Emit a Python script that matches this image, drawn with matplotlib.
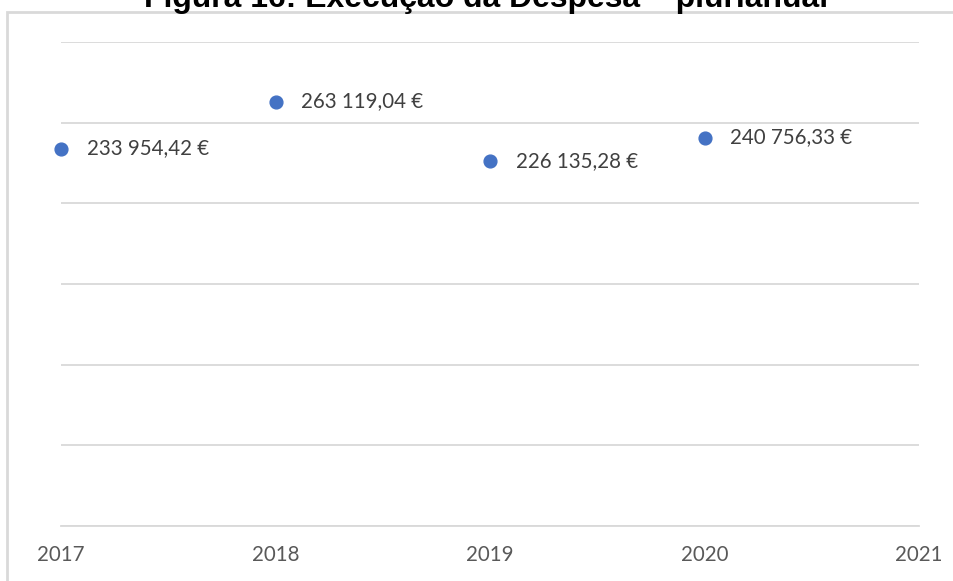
import matplotlib
matplotlib.use("Agg")
import matplotlib.pyplot as plt
from matplotlib.patches import Rectangle

years = [2017, 2018, 2019, 2020]
values = [233954.42, 263119.04, 226135.28, 240756.33]
labels = ["233 954,42 €", "263 119,04 €", "226 135,28 €", "240 756,33 €"]
xticks = [2017, 2018, 2019, 2020, 2021]
yticks = [0, 50000, 100000, 150000, 200000, 250000, 300000]
title = "Figura 16: Execução da Despesa – plurianual"

W, H = 954, 581
fig = plt.figure(figsize=(W / 100, H / 100), dpi=100)
fig.patch.set_facecolor("white")

# outer chart-area frame (partially cut off, as in the reference)
fig.patches.append(Rectangle((7 / W, -0.2), 1.5, (H - 12) / H + 0.2,
                             transform=fig.transFigure, fill=False,
                             edgecolor="#D9D9D9", linewidth=2.0, zorder=0))

ax = fig.add_axes([61 / W, (H - 526) / H, (919 - 61) / W, (526 - 42) / H])
ax.set_xlim(2017, 2021)
ax.set_ylim(0, 300000)
ax.set_yticks(yticks)
ax.set_xticks(xticks)
ax.set_xticklabels([str(x) for x in xticks], fontfamily="Lato", fontsize=14.8, color="#595959")
ax.set_yticklabels([])
ax.tick_params(axis="both", length=0)
ax.tick_params(axis="x", pad=14)
ax.grid(axis="y", color="#D9D9D9", linewidth=1.3)
ax.set_axisbelow(True)
for s in ["left", "right", "top"]:
    ax.spines[s].set_visible(False)
ax.spines["bottom"].set_color("#D9D9D9")
ax.spines["bottom"].set_linewidth(1.3)

ax.plot(years, values, linestyle="none", marker="o", markersize=9.2,
        color="#4472C4", clip_on=False, zorder=3)
for x, y, t in zip(years, values, labels):
    ax.annotate(t, (x, y), xytext=(18.5, 0), textcoords="offset points",
                ha="left", va="center", fontfamily="Lato", fontsize=14.8,
                color="#404040", annotation_clip=False)

ttl = fig.text(486 / W, (H - 7.5) / H, title, ha="center", va="baseline",
               fontfamily="Liberation Sans", fontweight="bold", fontsize=20,
               color="black")
fig.canvas.draw()
bb = ttl.get_window_extent()
ttl.set_fontsize(20 * 682 / bb.width)

fig.savefig("out.png", dpi=100, facecolor="white")
